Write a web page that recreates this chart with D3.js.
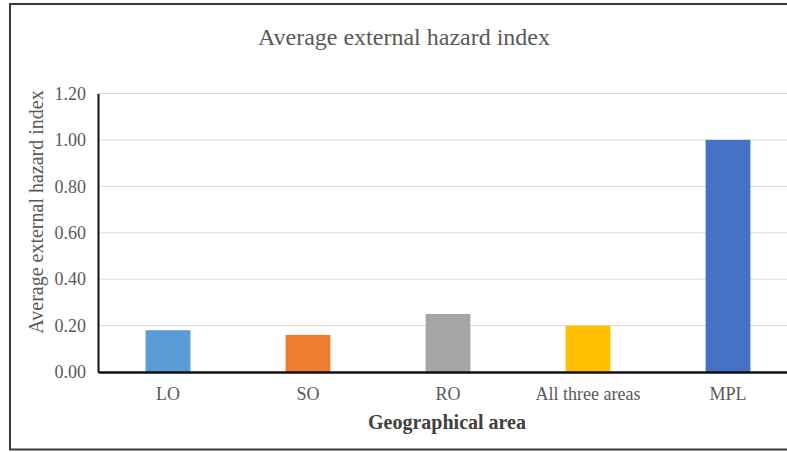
<!DOCTYPE html>
<html>
<head>
<meta charset="utf-8">
<script src="https://cdn.jsdelivr.net/npm/d3@7"></script>
<style>
  html, body { margin: 0; padding: 0; background: #fff; }
  svg { display: block; }
  text { font-family: "Liberation Serif", "Times New Roman", serif; }
</style>
</head>
<body>
<svg id="chart" width="787" height="452"></svg>
<script>
// Average external hazard index per geographical area
const categories = ["LO", "SO", "RO", "All three areas", "MPL"];
const values = [0.18, 0.16, 0.25, 0.20, 1.00];
const colors = ["#5B9BD5", "#ED7D31", "#A5A5A5", "#FFC000", "#4472C4"];
const yTicks = [0, 0.2, 0.4, 0.6, 0.8, 1.0, 1.2];

const svg = d3.select("#chart");

// frame around the chart (right edge runs past the canvas)
svg.append("rect")
  .attr("x", 10).attr("y", 4)
  .attr("width", 800).attr("height", 445.5)
  .attr("fill", "none")
  .attr("stroke", "#3a3a3a")
  .attr("stroke-width", 2);

const plot = { left: 98, right: 798, top: 93.5, bottom: 372 };

const x = d3.scaleBand()
  .domain(categories)
  .range([plot.left, plot.right])
  .paddingInner(0.68)
  .paddingOuter(0.34);

const y = d3.scaleLinear()
  .domain([0, 1.2])
  .range([plot.bottom, plot.top]);

// horizontal gridlines
svg.append("g")
  .selectAll("line")
  .data(yTicks.filter(d => d > 0))
  .join("line")
  .attr("x1", plot.left).attr("x2", plot.right)
  .attr("y1", d => y(d)).attr("y2", d => y(d))
  .attr("stroke", "#d9d9d9")
  .attr("stroke-width", 1);

// bars
svg.append("g")
  .selectAll("rect")
  .data(categories)
  .join("rect")
  .attr("x", d => x(d))
  .attr("width", x.bandwidth())
  .attr("y", (d, i) => y(values[i]))
  .attr("height", (d, i) => y(0) - y(values[i]))
  .attr("fill", (d, i) => colors[i]);

// y axis
const yAxis = d3.axisLeft(y)
  .tickValues(yTicks)
  .tickFormat(d3.format(".2f"))
  .tickSize(0)
  .tickPadding(12);
const gy = svg.append("g")
  .attr("transform", `translate(${plot.left},0)`)
  .call(yAxis);
gy.select(".domain").attr("stroke", "#111").attr("stroke-width", 2);
gy.selectAll(".tick text")
  .attr("fill", "#595959")
  .style("font-family", "'Liberation Serif', serif")
  .style("font-size", "18px");

// x axis
const xAxis = d3.axisBottom(x).tickSize(0).tickPadding(15);
const gx = svg.append("g")
  .attr("transform", `translate(0,${plot.bottom})`)
  .call(xAxis);
gx.select(".domain").attr("stroke", "#111").attr("stroke-width", 2.5);
gx.selectAll(".tick text")
  .attr("fill", "#595959")
  .style("font-family", "'Liberation Serif', serif")
  .style("font-size", "18px");

// chart title
svg.append("text")
  .attr("x", 404).attr("y", 45)
  .attr("text-anchor", "middle")
  .attr("fill", "#595959")
  .style("font-size", "24px")
  .text("Average external hazard index");

// y axis title
svg.append("text")
  .attr("transform", "translate(43,212) rotate(-90)")
  .attr("text-anchor", "middle")
  .attr("fill", "#595959")
  .style("font-size", "20px")
  .text("Average external hazard index");

// x axis title
svg.append("text")
  .attr("x", 447).attr("y", 429)
  .attr("text-anchor", "middle")
  .attr("fill", "#404040")
  .style("font-size", "20px")
  .style("font-weight", "bold")
  .text("Geographical area");
</script>
</body>
</html>
